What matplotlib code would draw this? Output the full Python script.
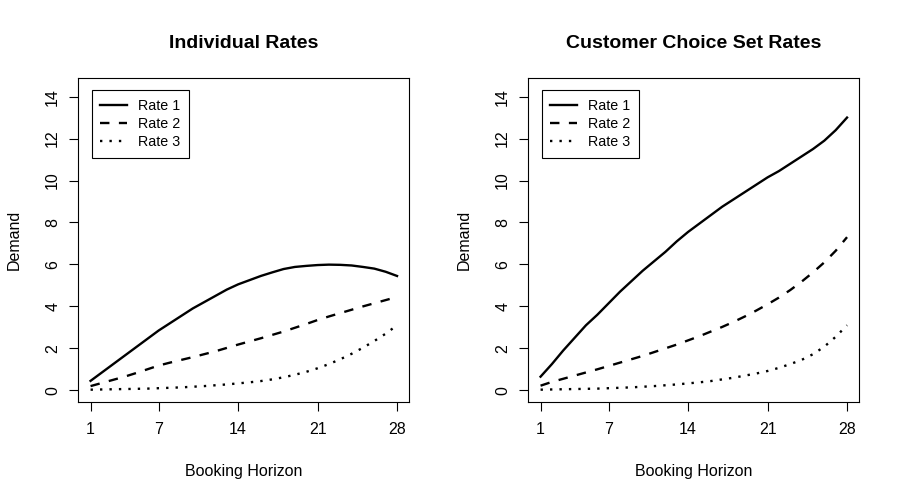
import matplotlib
matplotlib.use("Agg")
import matplotlib.pyplot as plt

plt.rcParams['font.family'] = ['Liberation Sans', 'DejaVu Sans']

days = list(range(1, 29))
xticks = [1, 7, 14, 21, 28]
yticks = [0, 2, 4, 6, 8, 10, 12, 14]

ind_rate1 = [0.45, 0.85, 1.25, 1.65, 2.05, 2.45, 2.85, 3.2, 3.55, 3.9, 4.2, 4.5, 4.8, 5.05,
             5.25, 5.45, 5.62, 5.78, 5.88, 5.93, 5.97, 5.99, 5.98, 5.95, 5.88, 5.8, 5.65, 5.45]
ind_rate2 = [0.2, 0.35, 0.5, 0.65, 0.82, 1.0, 1.18, 1.32, 1.45, 1.58, 1.72, 1.86, 2.02, 2.18,
             2.33, 2.48, 2.64, 2.8, 2.98, 3.16, 3.35, 3.52, 3.68, 3.84, 4.0, 4.15, 4.3, 4.45]
ind_rate3 = [0.03, 0.04, 0.05, 0.06, 0.07, 0.08, 0.1, 0.12, 0.14, 0.17, 0.2, 0.24, 0.28, 0.33,
             0.38, 0.44, 0.52, 0.62, 0.74, 0.88, 1.05, 1.25, 1.48, 1.74, 2.03, 2.35, 2.7, 3.1]

ccs_rate1 = [0.65, 1.25, 1.9, 2.5, 3.1, 3.6, 4.15, 4.7, 5.2, 5.7, 6.15, 6.6, 7.1, 7.55,
             7.95, 8.35, 8.75, 9.1, 9.45, 9.8, 10.15, 10.45, 10.8, 11.15, 11.5, 11.9, 12.4, 13.0]
ccs_rate2 = [0.22, 0.4, 0.55, 0.7, 0.85, 1.0, 1.16, 1.32, 1.48, 1.64, 1.82, 2.0, 2.18, 2.38,
             2.58, 2.8, 3.02, 3.26, 3.52, 3.8, 4.1, 4.42, 4.78, 5.18, 5.62, 6.1, 6.65, 7.3]
ccs_rate3 = [0.03, 0.04, 0.05, 0.06, 0.07, 0.08, 0.1, 0.12, 0.14, 0.17, 0.2, 0.24, 0.28, 0.33,
             0.38, 0.44, 0.52, 0.6, 0.7, 0.8, 0.92, 1.07, 1.25, 1.45, 1.72, 2.08, 2.55, 3.1]

titles = ["Individual Rates", "Customer Choice Set Rates"]
labels = ["Rate 1", "Rate 2", "Rate 3"]

fig = plt.figure(figsize=(9, 5), dpi=100)
W, H = 900, 500
panels = [(78.3, [ind_rate1, ind_rate2, ind_rate3]),
          (528.3, [ccs_rate1, ccs_rate2, ccs_rate3])]
lw = 1.7
styles = [dict(linestyle='-'), dict(linestyle=(0, (4, 4))), dict(linestyle=(0, (1, 3)))]

for (x0, series), title in zip(panels, titles):
    ax = fig.add_axes([x0 / W, 1 - 402.3 / H, 331 / W, 324 / H])
    for s, lab, st in zip(series, labels, styles):
        ax.plot(days, s, color='black', linewidth=lw, label=lab, **st)
    ax.set_xlim(1 - 1.08, 28 + 1.08)
    ax.set_ylim(-0.572, 14.872)
    ax.set_xticks(xticks)
    ax.set_yticks(yticks)
    for sp in ax.spines.values():
        sp.set_linewidth(0.8)
    ax.tick_params(axis='both', length=6.5, width=0.8, labelsize=11.5, direction='out')
    ax.tick_params(axis='x', pad=7.5)
    ax.tick_params(axis='y', pad=6.5)
    for t in ax.get_yticklabels():
        t.set_rotation(90)
        t.set_va('center')
    ax.set_title(title, fontsize=14, fontweight='bold', pad=21.6)
    ax.set_xlabel("Booking Horizon", fontsize=11.5)
    ax.xaxis.label.set_va('baseline')
    ax.xaxis.set_label_coords(0.5, -0.226)
    ax.set_ylabel("Demand", fontsize=11.5)
    ax.yaxis.label.set_va('baseline')
    ax.yaxis.set_label_coords(-0.181, 0.5)
    leg = ax.legend(loc='upper left', bbox_to_anchor=(0.0405, 0.963), borderaxespad=0,
                    fancybox=False, edgecolor='black', framealpha=1, fontsize=10.3,
                    handlelength=1.9, handletextpad=0.77, borderpad=0.6, labelspacing=0.3)
    leg.get_frame().set_linewidth(0.8)

fig.savefig("out.png", dpi=100)
